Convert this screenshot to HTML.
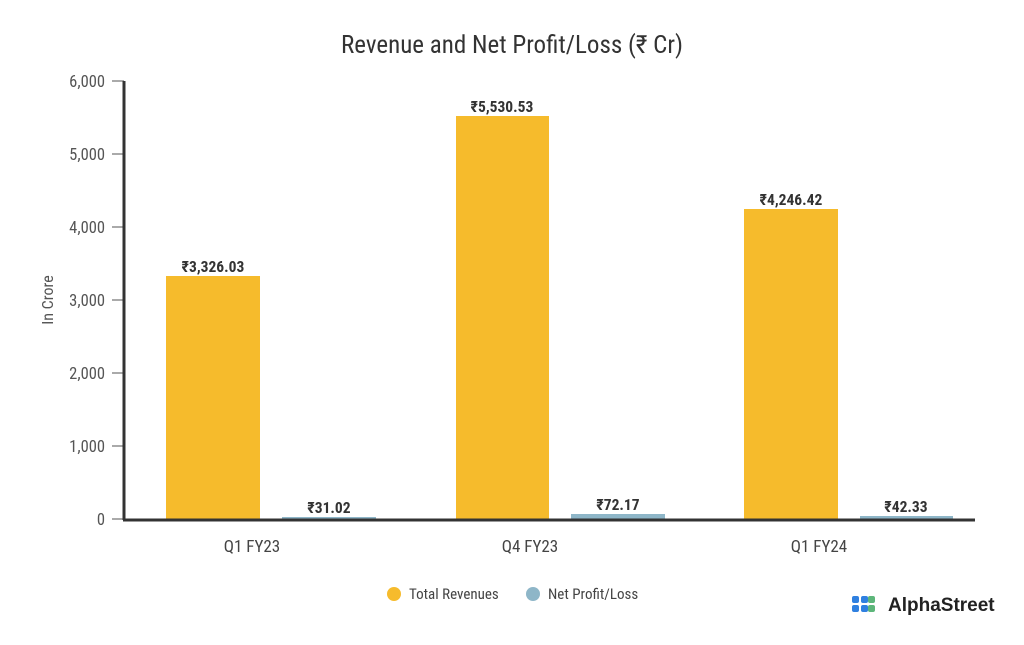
<!DOCTYPE html><html><head><style>body{margin:0;background:#fff}</style></head><body>
<svg width="1024" height="640" xmlns="http://www.w3.org/2000/svg" font-family="'Roboto Condensed', 'Liberation Sans Narrow', Roboto, 'Liberation Sans', sans-serif">
<rect width="1024" height="640" fill="#fff"/>
<text x="512" y="53" text-anchor="middle" font-size="25" fill="#333">Revenue and Net Profit/Loss (₹ Cr)</text>
<text transform="translate(53,300) rotate(-90)" text-anchor="middle" font-size="16" fill="#555">In Crore</text>
<g font-size="16.5" fill="#555" text-anchor="end">
<text x="105" y="525">0</text><text x="105" y="452">1,000</text><text x="105" y="379">2,000</text><text x="105" y="306">3,000</text><text x="105" y="233">4,000</text><text x="105" y="160">5,000</text><text x="105" y="87">6,000</text></g>
<g stroke="#555" stroke-width="1"><line x1="112" y1="519" x2="124" y2="519"/><line x1="112" y1="446" x2="124" y2="446"/><line x1="112" y1="373" x2="124" y2="373"/><line x1="112" y1="300" x2="124" y2="300"/><line x1="112" y1="227" x2="124" y2="227"/><line x1="112" y1="154" x2="124" y2="154"/><line x1="112" y1="81" x2="124" y2="81"/></g>
<g fill="#f6bb2c"><rect x="166" y="276" width="94" height="243"/><rect x="456" y="116" width="93" height="403"/><rect x="744" y="209" width="94" height="310"/></g>
<g fill="#8eb6c8"><rect x="282" y="517" width="94" height="2"/><rect x="571" y="514" width="94" height="5"/><rect x="860" y="516" width="93" height="3"/></g>
<line x1="124" y1="81" x2="124" y2="520" stroke="#333" stroke-width="3"/>
<line x1="123" y1="520" x2="975" y2="520" stroke="#333" stroke-width="3"/>
<g font-size="15.5" font-weight="bold" fill="#333" text-anchor="middle">
<text x="213" y="272">₹3,326.03</text><text x="329" y="513">₹31.02</text>
<text x="502" y="112">₹5,530.53</text><text x="618" y="510">₹72.17</text>
<text x="791" y="205">₹4,246.42</text><text x="906" y="512">₹42.33</text></g>
<g font-size="17" fill="#444" text-anchor="middle"><text x="252" y="552">Q1 FY23</text><text x="530" y="552">Q4 FY23</text><text x="819" y="552">Q1 FY24</text></g>
<circle cx="394" cy="594" r="7" fill="#f6bb2c"/><text x="409" y="599" font-size="15" fill="#444">Total Revenues</text>
<circle cx="533" cy="594" r="7" fill="#8eb6c8"/><text x="548" y="599" font-size="15" fill="#444">Net Profit/Loss</text>
<g><rect x="852" y="596" width="7" height="7" rx="2" fill="#2f80e0"/><rect x="861" y="596" width="7" height="7" rx="2" fill="#2f80e0"/><rect x="852" y="605" width="7" height="7" rx="2" fill="#2f80e0"/><rect x="861" y="605" width="7" height="7" rx="2" fill="#2f80e0"/>
<rect x="868" y="596" width="7" height="7" rx="2" fill="#5db67a"/><rect x="868" y="605" width="7" height="7" rx="2" fill="#5db67a"/></g>
<text x="888" y="611" font-size="19" font-weight="bold" fill="#222" font-family="'Liberation Sans', sans-serif">AlphaStreet</text>
</svg></body></html>
